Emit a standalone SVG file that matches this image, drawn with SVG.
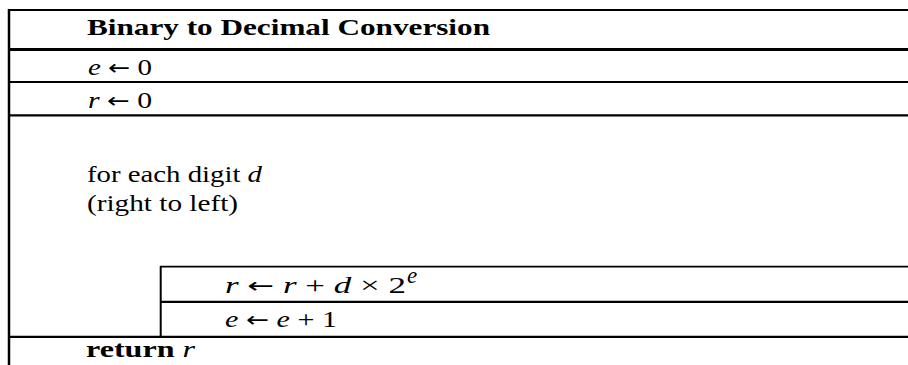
<svg xmlns="http://www.w3.org/2000/svg" width="908" height="365" viewBox="0 0 908 365">
<style>
.t{font-family:"Liberation Serif","DejaVu Serif",serif;font-size:23px;fill:#000}
.b{font-weight:bold}
.i{font-style:italic}
.a{font-family:"DejaVu Sans",sans-serif;font-size:21px}
.ln{stroke:#000;fill:none}
</style>
<rect width="908" height="365" fill="#fff"/>
<g id="frame">
<line class="ln" x1="9" y1="9" x2="9" y2="365" stroke-width="2.5"/>
</g>
<g id="title">
<line class="ln" x1="8" y1="10" x2="908" y2="10" stroke-width="1.8"/>
<text class="t b" x="87" y="34.5" textLength="403" lengthAdjust="spacingAndGlyphs">Binary to Decimal Conversion</text>
<line class="ln" x1="8" y1="49.5" x2="908" y2="49.5" stroke-width="3"/>
</g>
<g id="init-e">
<text class="t" x="88" y="74.5" textLength="64" lengthAdjust="spacingAndGlyphs"><tspan class="i">e</tspan> <tspan class="a">←</tspan> 0</text>
<line class="ln" x1="8" y1="82" x2="908" y2="82" stroke-width="2.2"/>
</g>
<g id="init-r">
<text class="t" x="88" y="107.5" textLength="64" lengthAdjust="spacingAndGlyphs"><tspan class="i">r</tspan> <tspan class="a">←</tspan> 0</text>
<line class="ln" x1="8" y1="115.3" x2="908" y2="115.3" stroke-width="2.3"/>
</g>
<g id="loop">
<text class="t" x="87" y="182" textLength="175" lengthAdjust="spacingAndGlyphs">for each digit <tspan class="i">d</tspan></text>
<text class="t" x="87" y="211" textLength="151" lengthAdjust="spacingAndGlyphs">(right to left)</text>
<line class="ln" x1="160.7" y1="266" x2="160.7" y2="337" stroke-width="2"/>
</g>
<g id="update-r">
<line class="ln" x1="160" y1="266.7" x2="908" y2="266.7" stroke-width="1.8"/>
<text class="t" x="225" y="292.5" textLength="181" lengthAdjust="spacingAndGlyphs"><tspan class="i">r</tspan> <tspan class="a">←</tspan> <tspan class="i">r</tspan> + <tspan class="i">d</tspan> × 2</text>
<text class="t i" x="407" y="283" font-size="16">e</text>
<line class="ln" x1="160" y1="301.8" x2="908" y2="301.8" stroke-width="2.3"/>
</g>
<g id="update-e">
<text class="t" x="225" y="326.7" textLength="112" lengthAdjust="spacingAndGlyphs"><tspan class="i">e</tspan> <tspan class="a">←</tspan> <tspan class="i">e</tspan> + 1</text>
<line class="ln" x1="8" y1="336.8" x2="908" y2="336.8" stroke-width="2.3"/>
</g>
<g id="return">
<text class="t" x="86" y="357" textLength="109" lengthAdjust="spacingAndGlyphs"><tspan class="b">return</tspan> <tspan class="i">r</tspan></text>
</g>
</svg>
